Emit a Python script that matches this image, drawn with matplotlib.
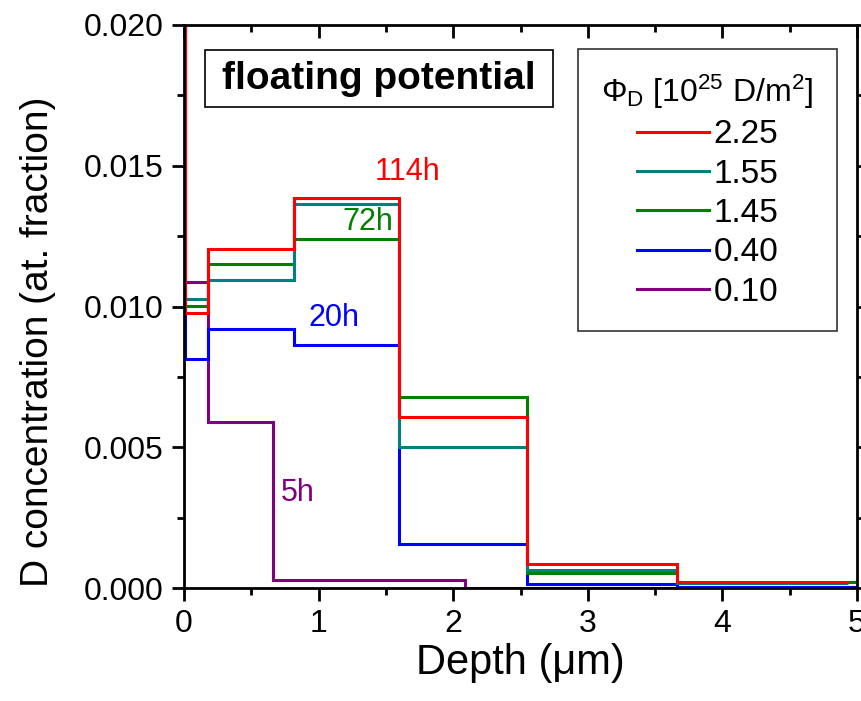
import matplotlib
matplotlib.use("Agg")
import matplotlib.pyplot as plt
from matplotlib.patches import Rectangle
from matplotlib.ticker import MultipleLocator

plt.rcParams["font.family"] = ["Liberation Sans", "DejaVu Sans"]
plt.rcParams["mathtext.fontset"] = "custom"
plt.rcParams["mathtext.rm"] = "Liberation Sans"
plt.rcParams["mathtext.it"] = "Liberation Sans:italic"

# layer boundaries (um) of the depth profiles
edges_main = [0.0, 0.01, 0.18, 0.82, 1.60, 2.55, 3.66, 4.93]
edges_full = [0.0, 0.01, 0.18, 0.82, 1.60, 2.55, 3.66, 5.0]
edges_low  = [0.0, 0.01, 0.18, 0.66, 2.09, 5.0]

# D concentration per layer (at. fraction), surface layer runs off scale
c_225 = [0.05, 0.00978, 0.01205, 0.01387, 0.00609, 0.00085, 0.00020]
c_155 = [0.05, 0.01027, 0.01094, 0.01364, 0.00502, 0.00064, 0.00017]
c_145 = [0.05, 0.01002, 0.01150, 0.01240, 0.00680, 0.00052, 0.00022]
c_040 = [0.05, 0.00814, 0.00920, 0.00864, 0.00156, 0.00014, 0.00005]
c_010 = [0.05, 0.01088, 0.00589, 0.00028, 0.0]

fluence = ["2.25", "1.55", "1.45", "0.40", "0.10"]
colors  = ["#ff0000", "#008080", "#008000", "#0000ff", "#800080"]
times   = ["114h", "72h", "20h", "5h"]
time_pos = [(1.657, 0.01478), (1.367, 0.01300), (1.114, 0.00959), (0.847, 0.00337)]
time_col = ["#ff0000", "#008000", "#0000ff", "#800080"]

profiles = [(edges_main, c_225), (edges_main, c_155), (edges_full, c_145),
            (edges_full, c_040), (edges_low, c_010)]

fig = plt.figure(figsize=(8.61, 7.01), dpi=100)
ax = fig.add_axes([184/861, 1 - 588/701, 673/861, 563/701])

# red on top, purple underneath
handles = [None]*5
for i in reversed(range(5)):
    e, c = profiles[i]
    handles[i] = ax.stairs(c, e, baseline=None, color=colors[i], lw=2.2,
                           label=fluence[i])

ax.set_xlim(0, 5)
ax.set_ylim(0, 0.02)
ax.xaxis.set_major_locator(MultipleLocator(1))
ax.xaxis.set_minor_locator(MultipleLocator(0.5))
ax.yaxis.set_major_locator(MultipleLocator(0.005))
ax.yaxis.set_minor_locator(MultipleLocator(0.0025))
ax.yaxis.set_major_formatter(plt.FormatStrFormatter("%.3f"))

for s in ax.spines.values():
    s.set_linewidth(2)
ax.tick_params(which="both", width=2, labelsize=23, pad=6)
ax.tick_params(which="major", length=9)
ax.tick_params(which="minor", length=5)
ax.tick_params(which="both", top=True, right=True, direction="out")
# mirrored ticks on top/right point inward
for t in ax.xaxis.get_major_ticks() + ax.xaxis.get_minor_ticks():
    t.tick2line.set_marker(3)
for t in ax.yaxis.get_major_ticks() + ax.yaxis.get_minor_ticks():
    t.tick2line.set_marker(1)

ax.set_xlabel("Depth (\u03bcm)", fontsize=30, labelpad=3)
ax.set_ylabel("D concentration (at. fraction)", fontsize=28)
ax.yaxis.set_label_coords(-0.19, 0.437)

for lab, (x, y), col in zip(times, time_pos, time_col):
    ax.text(x, y, lab, color=col, fontsize=22, ha="center", va="center")

ax.add_patch(Rectangle((21/673, 481/563), 348/673, 57/563, transform=ax.transAxes,
                       fill=False, ec="black", lw=1.2))
ax.text(195/673, 509/563, "floating potential", transform=ax.transAxes,
        fontsize=28, fontweight="bold", ha="center", va="center")

leg = ax.legend(handles=handles, loc="upper right", bbox_to_anchor=(0.970, 0.957),
                title=r"$\Phi_\mathrm{D}$ [10$^{25}$ D/m$^2$]", title_fontsize=23,
                fontsize=24, fancybox=False, edgecolor="#333333", framealpha=1,
                handlelength=2.16, handletextpad=0.15, labelspacing=0.25,
                borderpad=0.7, borderaxespad=0)
leg.get_frame().set_linewidth(1.2)
for h in leg.legend_handles:
    h.set_linewidth(2.2)

fig.savefig("out.png", dpi=100)
